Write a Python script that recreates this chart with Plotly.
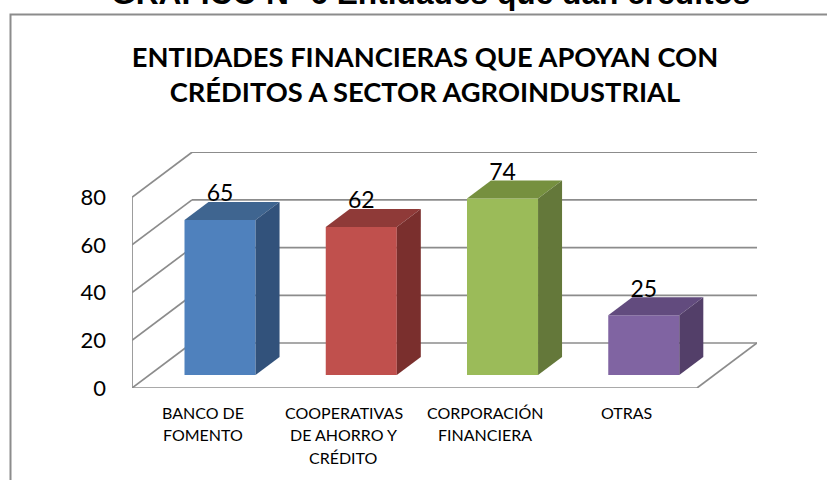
import plotly.graph_objects as go

categories = ["BANCO DE\nFOMENTO", "COOPERATIVAS\nDE AHORRO Y\nCRÉDITO", "CORPORACIÓN\nFINANCIERA", "OTRAS"]
values = [65, 62, 74, 25]
y_ticks = [0, 20, 40, 60, 80]
front_colors = ["#4F81BD", "#C0504D", "#9BBB59", "#8064A2"]
top_colors = ["#3F6590", "#8F3A38", "#76903F", "#624B7E"]
side_colors = ["#32527B", "#7A2F2D", "#64783A", "#533F69"]
chart_title = "ENTIDADES FINANCIERAS QUE APOYAN CON<br>CRÉDITOS A SECTOR AGROINDUSTRIAL"
page_title = "GRAFICO N° 6 Entidades que dan créditos"

W, H = 827, 480
L, R, T, B = 132, 757, 152, 388      # plot box in page pixels
PX_X = 141.25                        # pixels per category
PX_Y = 2.385                         # pixels per value unit
DEPTH_X = 60 / PX_X                  # full floor depth, in axis units
DEPTH_Y = 45 / PX_Y
BAR_W = 0.503
BAR_D0, BAR_D1 = 0.29, 0.69          # bar front/back as fractions of floor depth
GRID = "#8C8C8C"

def proj(x, y, d):
    return x + d * DEPTH_X, y + d * DEPTH_Y

fig = go.Figure()

# walls and floor
x_left, x_right = -0.5, 3.5
shapes = []
def seg(p, q):
    shapes.append(dict(type="line", xref="x", yref="y", x0=p[0], y0=p[1], x1=q[0], y1=q[1],
                       layer="below", line=dict(color=GRID, width=1.7)))
for t in y_ticks:
    seg(proj(x_left, t, 0), proj(x_left, t, 1))
    seg(proj(x_left, t, 1), proj(x_right, t, 1))
seg(proj(x_left, 0, 0), proj(x_left, y_ticks[-1], 0))
seg(proj(x_left, 0, 0), proj(x_right, 0, 0))
seg(proj(x_right, 0, 0), proj(x_right, 0, 1))

# bars: front faces
bx = [i + BAR_D0 * DEPTH_X for i in range(4)]
base = BAR_D0 * DEPTH_Y
fig.add_trace(go.Bar(x=bx, y=values, base=[base] * 4, width=BAR_W,
                     marker=dict(color=front_colors, line=dict(width=0)), showlegend=False, hoverinfo="skip"))

# bars: top and side faces
for i, v in enumerate(values):
    xa, xb = i - BAR_W / 2, i + BAR_W / 2
    pts_top = [proj(xa, v, BAR_D0), proj(xb, v, BAR_D0), proj(xb, v, BAR_D1), proj(xa, v, BAR_D1)]
    pts_side = [proj(xb, 0, BAR_D0), proj(xb, 0, BAR_D1), proj(xb, v, BAR_D1), proj(xb, v, BAR_D0)]
    for pts, c in ((pts_top, top_colors[i]), (pts_side, side_colors[i])):
        fig.add_trace(go.Scatter(x=[p[0] for p in pts], y=[p[1] for p in pts], fill="toself", mode="lines",
                                 fillcolor=c, line=dict(width=0, color=c), showlegend=False, hoverinfo="skip"))

# data labels
fig.add_trace(go.Scatter(x=bx, y=[base + v + 24.5 / PX_Y for v in values], mode="text",
                         text=[str(v) for v in values], textposition="middle center",
                         textfont=dict(family="Lato", size=23, color="#000000"),
                         showlegend=False, hoverinfo="skip"))

# category labels, one annotation per line for the source's wider leading
annotations = []
for i, c in enumerate(categories):
    for j, line in enumerate(c.split("\n")):
        annotations.append(dict(x=i, y=0, xref="x", yref="y", text=line, showarrow=False, xanchor="center",
                                yanchor="middle", yshift=-(24 + 22.7 * j),
                                font=dict(family="Lato", size=16, color="#000000")))
# page heading, clipped by the top of the page in the source too
annotations.append(dict(x=(430 - L) / (R - L), y=1, xref="paper", yref="paper", text="<b>" + page_title + "</b>",
                        showarrow=False, xanchor="center", yanchor="middle", yshift=T + 7,
                        font=dict(family="Liberation Sans", size=31.7, color="#000000")))
fig.update_layout(
    width=W, height=H, margin=dict(l=L, r=W - R, t=T, b=H - B, pad=0, autoexpand=False),
    paper_bgcolor="#FFFFFF", plot_bgcolor="rgba(0,0,0,0)", barmode="overlay",
    title=dict(text="<b>" + chart_title + "</b>", x=425 / W, xanchor="center", y=1 - 67 / H, yanchor="middle",
               font=dict(family="Lato", size=27.3, color="#000000")),
    xaxis=dict(range=[x_left, x_right + DEPTH_X], showgrid=False, zeroline=False, showline=False,
               tickvals=[0, 1, 2, 3], showticklabels=False, ticks="", fixedrange=True),
    yaxis=dict(range=[0, (B - T) / PX_Y], showgrid=False, zeroline=False, showline=False,
               tickvals=y_ticks, ticks="", ticklabelstandoff=25,
               tickfont=dict(family="Lato", size=22, color="#000000"), fixedrange=True),
    shapes=shapes + [dict(type="rect", xref="paper", yref="paper", x0=-(L - 10.5) / (R - L), x1=(840 - L) / (R - L),
                          y0=-(500 - B) / (B - T), y1=(B - 14.5) / (B - T), layer="below",
                          line=dict(color="#8C8C8C", width=2), fillcolor="rgba(0,0,0,0)")],
    annotations=annotations,
)
fig.write_html("out.html", config={"displayModeBar": False},
               post_script="document.documentElement.style.overflow='hidden';document.body.style.margin='0';")
